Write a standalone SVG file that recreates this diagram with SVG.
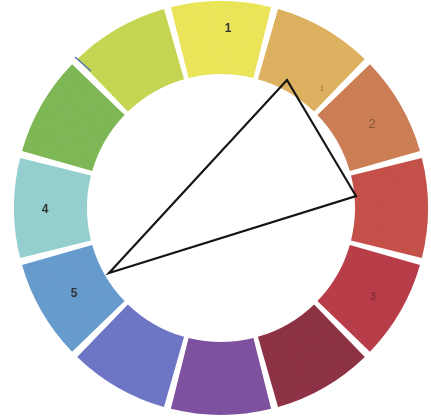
<svg xmlns="http://www.w3.org/2000/svg" xmlns:xlink="http://www.w3.org/1999/xlink" width="431" height="420" viewBox="0 0 431 420">
  <style>
    .lbl { font-family: "Liberation Sans", Arial, sans-serif; font-size: 12px; font-weight: bold; fill: #333333; text-anchor: middle; }
    .faint { fill: #6a4a30; opacity: 0.7; font-weight: normal; }
    .tri { fill: none; stroke: #151515; stroke-width: 2.2; stroke-linejoin: miter; }
  </style>
  <defs>
    <path id="seg" d="M170.92,7.15 A207,207 0 0 1 271.08,7.15 L253.42,77.98 A134,134 0 0 0 188.58,77.98 Z"/>
    <filter id="grain" x="0" y="0" width="100%" height="100%">
      <feTurbulence type="fractalNoise" baseFrequency="0.9" numOctaves="2" seed="3" result="n"/>
      <feColorMatrix in="n" type="matrix" values="0 0 0 0 0  0 0 0 0 0  0 0 0 0 0  0 0 0 0.07 0" result="dark"/>
      <feComposite in="dark" in2="SourceGraphic" operator="in" result="tex"/>
      <feMerge><feMergeNode in="SourceGraphic"/><feMergeNode in="tex"/></feMerge>
    </filter>
  </defs>
  <rect width="431" height="420" fill="#ffffff"/>
  <g id="wheel" filter="url(#grain)">
    <g id="seg-yellow"><use xlink:href="#seg" fill="#EEE85C"/></g>
    <g id="seg-yellow-orange"><use xlink:href="#seg" fill="#E0B462" transform="rotate(30 221 208)"/></g>
    <g id="seg-orange"><use xlink:href="#seg" fill="#CF8056" transform="rotate(60 221 208)"/></g>
    <g id="seg-red"><use xlink:href="#seg" fill="#C8524C" transform="rotate(90 221 208)"/></g>
    <g id="seg-red-violet"><use xlink:href="#seg" fill="#BA404C" transform="rotate(120 221 208)"/></g>
    <g id="seg-maroon"><use xlink:href="#seg" fill="#903446" transform="rotate(150 221 208)"/></g>
    <g id="seg-violet"><use xlink:href="#seg" fill="#8052A2" transform="rotate(180 221 208)"/></g>
    <g id="seg-blue-violet"><use xlink:href="#seg" fill="#6F78C8" transform="rotate(210 221 208)"/></g>
    <g id="seg-blue"><use xlink:href="#seg" fill="#699ED0" transform="rotate(240 221 208)"/></g>
    <g id="seg-aqua"><use xlink:href="#seg" fill="#98D2D2" transform="rotate(270 221 208)"/></g>
    <g id="seg-green"><use xlink:href="#seg" fill="#80BA56" transform="rotate(300 221 208)"/></g>
    <g id="seg-yellow-green"><use xlink:href="#seg" fill="#C9D954" transform="rotate(330 221 208)"/></g>
  </g>
  <line x1="75" y1="57" x2="91" y2="71" stroke="#5C74B8" stroke-width="1.5"/>
  <g id="labels">
    <text class="lbl" x="228" y="32">1</text>
    <text class="lbl faint" x="322" y="91" style="font-size:8px">1</text>
    <text class="lbl faint" x="372" y="128" style="font-size:13px">2</text>
    <text class="lbl faint" x="373" y="300" style="font-size:10px;fill:#5a1e28">3</text>
    <text class="lbl" x="45" y="213">4</text>
    <text class="lbl" x="74" y="297">5</text>
  </g>
  <g id="connectors">
    <polygon class="tri" points="287,80 356,196 109,273"/>
  </g>
</svg>
